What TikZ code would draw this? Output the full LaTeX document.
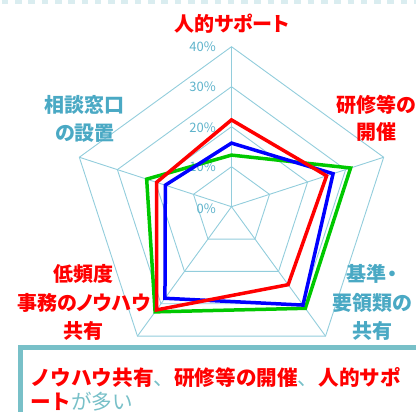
\documentclass[tikz,border=0pt]{standalone}
\usepackage{fontspec}
\setmainfont{Noto Sans CJK JP}[RawFeature=+palt]
\newfontfamily\jpfull{Noto Sans CJK JP}
\definecolor{gridc}{HTML}{92CDDC}
\definecolor{lblteal}{HTML}{4AA9C4}
\definecolor{pctc}{HTML}{5EB3CB}
\definecolor{boxteal}{HTML}{78C0C8}
\definecolor{dashc}{HTML}{DAEDF0}
\definecolor{sgreen}{HTML}{00C800}
\definecolor{sred}{HTML}{FF0000}
\definecolor{sblue}{HTML}{0000FF}
\begin{document}
\begin{tikzpicture}[x=1pt,y=-1pt,
  gridline/.style={gridc, line width=0.9pt},
  series/.style={line width=3.5pt, line join=miter},
  axlabel/.style={font=\fontsize{20}{28.5}\selectfont\bfseries, align=center, inner sep=0pt},
  pct/.style={pctc, anchor=east, inner sep=0pt, font=\fontsize{13}{15}\selectfont}]
\useasboundingbox (0,0) rectangle (416,412);
% top dashed band
\draw[dashc, line width=4.5pt, dash pattern=on 6.6pt off 6.7pt] (1.7,2) -- (420,2);
\begin{scope}[shift={(231.5,206.7)}]
  \coordinate (C) at (0,0);
  % rings
  \foreach \r in {40,80,120,160} {
    \draw[gridline] (-90:\r) -- (-18:\r) -- (54:\r) -- (126:\r) -- (198:\r) -- cycle;
  }
  % spokes
  \foreach \a in {-90,-18,54,126,198} {
    \draw[gridline] (C) -- (\a:160);
  }
\end{scope}
% percent labels
\node[pct] (p0) at (216,209) {0\%};
\node[pct] (p10) at (216,167) {10\%};
\node[pct] (p20) at (216,128) {20\%};
\node[pct] (p30) at (216,87) {30\%};
\node[pct] (p40) at (216,46.5) {40\%};
\begin{scope}[shift={(231.5,206.7)}]
  \draw[series, sgreen] (-90:51.6) -- (-18:125.2) -- (54:125.6) -- (126:130) -- (198:89.2) -- cycle;
  \draw[series, sblue] (-90:63.6) -- (-18:106.8) -- (54:121.6) -- (126:113.2) -- (198:69.6) -- cycle;
  \draw[series, sred] (-90:86.8) -- (-18:100) -- (54:96.4) -- (126:127.6) -- (198:78.8) -- cycle;
\end{scope}
% axis labels
\node[axlabel, sred] (lhs) at (231.7,24) {人的サポート};
\node[axlabel, sred, font=\fontsize{20}{27.5}\selectfont\bfseries] (lks) at (376,118.5) {研修等の\\開催};
\node[axlabel, lblteal, font=\fontsize{20}{27.5}\selectfont\bfseries] (lsd) at (85,118.8) {相談窓口\\の設置};
\node[axlabel, sred] (lth) at (84,302.8) {低頻度\\事務のノウハウ\\共有};
\node[axlabel, lblteal] (lkj) at (372,302.8) {基準・\\要領類の\\共有};
% bottom box
\draw[boxteal, line width=5pt] (20.5,347.5) rectangle (440,440);
\node[anchor=north west, align=left, inner sep=0pt, font=\jpfull\fontsize{20.6}{24}\selectfont] (bt) at (30,367) {%
{\color{sred}\bfseries ノウハウ共有}{\color{boxteal}、}{\color{sred}\bfseries 研修等の開催}{\color{boxteal}、}{\color{sred}\bfseries 人的サポ}\\
{\color{sred}\bfseries ート}{\color{boxteal}が多い}};
\end{tikzpicture}
\end{document}
